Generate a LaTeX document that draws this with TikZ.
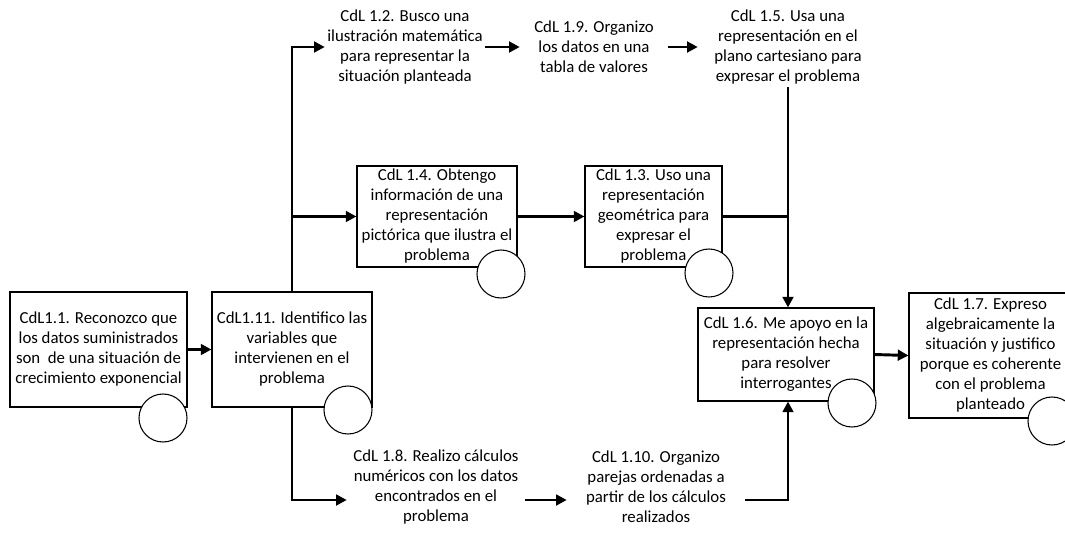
\documentclass[tikz,border=0pt]{standalone}
\usepackage{fontspec}
\setmainfont{Carlito}
\usetikzlibrary{arrows.meta}
\begin{document}
\begin{tikzpicture}[x=0.75pt, y=-0.75pt,
  every node/.style={font=\fontsize{12.6pt}{15pt}\selectfont, align=center},
  box/.style={draw, line width=0.8pt, inner sep=0pt},
  txt/.style={inner xsep=0pt, inner ysep=2pt},
  ring/.style={draw, circle, fill=white, line width=0.8pt, minimum size=36pt, inner sep=0pt},
  conn/.style={line width=2.2pt, -{Triangle[length=8pt,width=8pt]}},
  link/.style={line width=2.2pt}]
  \clip (0,0) rectangle (1065,540);
  % boxes
  \node [box, minimum width=132.75pt, minimum height=86.25pt] (b11) at (98.5,349.5)
    {CdL1.1. Reconozco que\\los datos suministrados\\son \ de una situación de\\crecimiento exponencial};
  \node [box, minimum width=120pt, minimum height=86.25pt] (b111) at (292,349.5)
    {CdL1.11. Identifico las\\variables que\\intervienen en el\\problema};
  \node [box, minimum width=120pt, minimum height=75.75pt] (b14) at (437,216.5)
    {CdL 1.4. Obtengo\\información de una\\representación\\pictórica que ilustra el\\problema};
  \node [box, minimum width=102.75pt, minimum height=75.75pt] (b13) at (653.5,216.5)
    {CdL 1.3. Uso una\\representación\\geométrica para\\expresar el\\problema};
  \node [box, minimum width=132pt, minimum height=69.75pt] (b16) at (786,354.5)
    {CdL 1.6. Me apoyo en la\\representación hecha\\para resolver\\interrogantes};
  \node [box, minimum width=122.25pt, minimum height=93.75pt] (b17) at (990.5,355.5)
    {CdL 1.7. Expreso\\algebraicamente la\\situación y justifico\\porque es coherente\\con el problema\\planteado};
  % free texts
  \node [txt, minimum width=120pt] (t12) at (405,47)
    {CdL 1.2. Busco una\\ilustración matemática\\para representar la\\situación planteada};
  \node [txt, minimum width=111pt] (t19) at (594,47)
    {CdL 1.9. Organizo\\los datos en una\\tabla de valores};
  \node [txt, minimum width=135pt] (t15) at (788,47)
    {CdL 1.5. Usa una\\representación en el\\plano cartesiano para\\expresar el problema};
  \node [txt, minimum width=133.5pt] (t18) at (436,487)
    {CdL 1.8. Realizo cálculos\\numéricos con los datos\\encontrados en el\\problema};
  \node [txt, minimum width=133.5pt] (t110) at (656,487)
    {CdL 1.10. Organizo\\parejas ordenadas a\\partir de los cálculos\\realizados};
  \coordinate (jb) at (788,500);
  % connectors
  \draw [conn] (b11.east) -- (b111.west);
  \draw [conn] (b111.north) |- (t12.west);
  \draw [conn] (b111.north |- b14.west) -- (b14.west);
  \draw [conn] (b111.south) |- (t18.west |- jb);
  \draw [conn] (t12.east) -- (t19.west);
  \draw [conn] (t19.east) -- (t15.west);
  \draw [conn] (b14.east) -- (b13.west);
  \draw [link] (b13.east) -- (b13.east -| t15.south);
  \draw [conn] (t15.south) -- (t15.south |- b16.north);
  \draw [conn] (t18.east |- jb) -- (t110.west |- jb);
  \draw [conn] (t110.east |- jb) -| (jb |- b16.south);
  \draw [conn] (b16.east) -- (b17.west);
  % circles
  \node [ring] (c11) at (163,418) {};
  \node [ring] (c111) at (348,410) {};
  \node [ring] (c14) at (501,274) {};
  \node [ring] (c13) at (709,273) {};
  \node [ring] (c16) at (852,403) {};
  \node [ring] (c17) at (1052,421) {};
\end{tikzpicture}
\end{document}
